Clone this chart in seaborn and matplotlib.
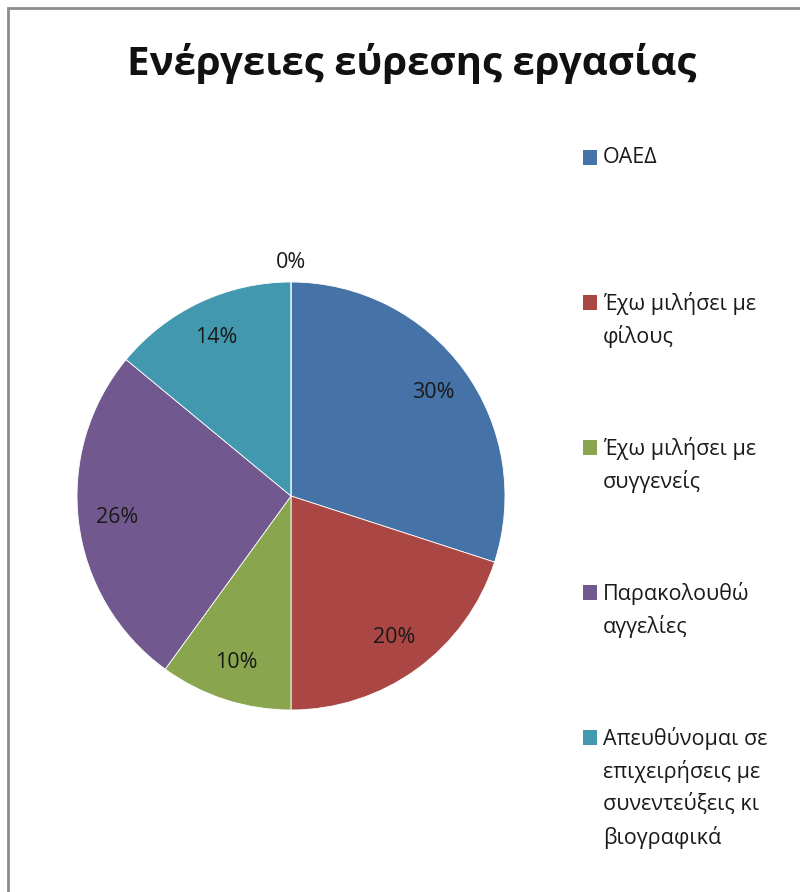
import matplotlib.pyplot as plt
import seaborn as sns
from matplotlib.patches import Rectangle

categories = [
    'ΟΑΕΔ',
    'Έχω μιλήσει με\nφίλους',
    'Έχω μιλήσει με\nσυγγενείς',
    'Παρακολουθώ\nαγγελίες',
    'Απευθύνομαι σε\nεπιχειρήσεις με\nσυνεντεύξεις κι\nβιογραφικά',
    '',
]
shares = [30, 20, 10, 26, 14, 0]
colors = ['#4572A7', '#AA4643', '#89A54E', '#71588F', '#4198AF', '#DB843D']
title = 'Ενέργειες εύρεσης εργασίας'

sns.set_theme(style='white')
plt.rcParams['font.family'] = ['Open Sans', 'DejaVu Sans']

fig = plt.figure(figsize=(8, 8.92), dpi=100)
fig.patch.set_facecolor('white')

# outer chart frame (cut off at right/bottom like the screenshot)
fig.patches.append(Rectangle((8 / 800, -0.05), 1.2, 1 - 8 / 892 + 0.05,
                             transform=fig.transFigure, fill=False,
                             edgecolor='#8c8c8c', linewidth=2))

fig.text(0.515, 1 - 64 / 892, title, ha='center', va='center',
         fontsize=29, fontweight='bold', color='#111111')

ax = fig.add_axes([77 / 800, (892 - 710) / 892, 428 / 800, 428 / 892])
wedges, _, autotexts = ax.pie(
    shares, colors=colors, startangle=90, counterclock=False,
    autopct='%1.0f%%', pctdistance=0.82,
    wedgeprops=dict(edgecolor='white', linewidth=0.6),
    textprops=dict(fontsize=15.5, color='#1a1a1a'),
)
ax.set_xlim(-1, 1)
ax.set_ylim(-1, 1)
for t in autotexts:
    t.set_clip_on(False)
# zero slice label sits just outside the top of the pie
autotexts[-1].set_position((0, 1.09))

# legend: square aligned with the first line of each label
for i, (label, color) in enumerate(zip(categories[:5], colors[:5])):
    y = 1 - (158 + 145 * i) / 892
    fig.patches.append(Rectangle((583 / 800, y - 7 / 892), 14 / 800, 15 / 892,
                                 transform=fig.transFigure,
                                 facecolor=color, edgecolor='none'))
    fig.text(603 / 800, y + 11 / 892, label, ha='left', va='top',
             fontsize=15.5, color='#1a1a1a', linespacing=1.58)

fig.savefig('out.png', dpi=100)
